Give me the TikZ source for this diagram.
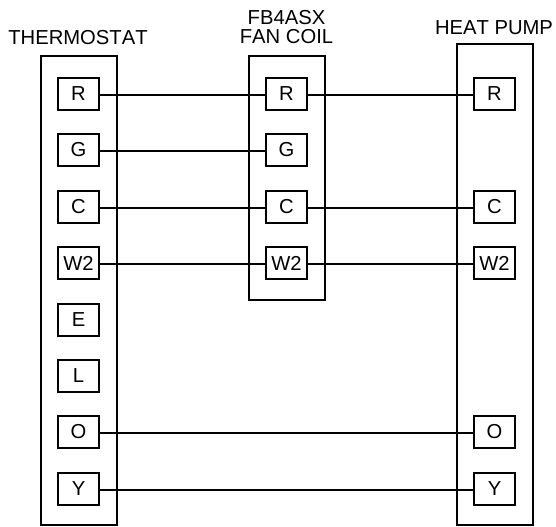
\documentclass[tikz,border=0pt]{standalone}
\usepackage{fontspec}
\setmainfont[Kerning=Off]{Liberation Sans}
\tikzset{
  x=1bp,y=-1bp,
  panel/.style={draw=black,line width=2bp,fill=none,line join=miter},
  term/.style={draw=black,line width=2bp,fill=white,minimum width=41bp,minimum height=32bp,inner sep=0pt,outer sep=0pt,font=\fontsize{20.3}{20.3}\selectfont},
  wire/.style={draw=black,line width=2bp},
  title/.style={align=center,inner sep=0pt,font=\fontsize{20.3}{20.3}\selectfont,text=black}
}
\begin{document}
\begin{tikzpicture}
\useasboundingbox (0,0) rectangle (556,527);
\draw[panel] (41,56) rectangle (117,525);
\draw[panel] (249,56) rectangle (325,300);
\draw[panel] (457,44) rectangle (533,525);
\node[title] (t1) at (78,37.5) {THERMOSTAT};
\node[title] (t2) at (286.5,27) {FB4ASX\\[-1pt]FAN COIL};
\node[title] (t3) at (494,27.5) {HEAT PUMP};
\foreach \n/\l/\y in {r/R/94,g/G/150,c/C/207,w/W2/263,e/E/320,l/L/376,o/O/432,y/Y/489}{
  \node[term] (a\n) at (78.5,\y) {\l};
}
\foreach \n/\l/\y in {r/R/94,g/G/150,c/C/207,w/W2/263}{
  \node[term] (b\n) at (286.5,\y) {\l};
}
\foreach \n/\l/\y in {r/R/94,c/C/207,w/W2/263,o/O/432,y/Y/489}{
  \node[term] (h\n) at (494.5,\y) {\l};
}
\foreach \p/\q in {ar/br,br/hr,ag/bg,ac/bc,bc/hc,aw/bw,bw/hw,ao/ho,ay/hy}{
  \draw[wire] ([yshift=-1bp]\p.east) -- ([yshift=-1bp]\q.west);
}
\end{tikzpicture}
\end{document}
